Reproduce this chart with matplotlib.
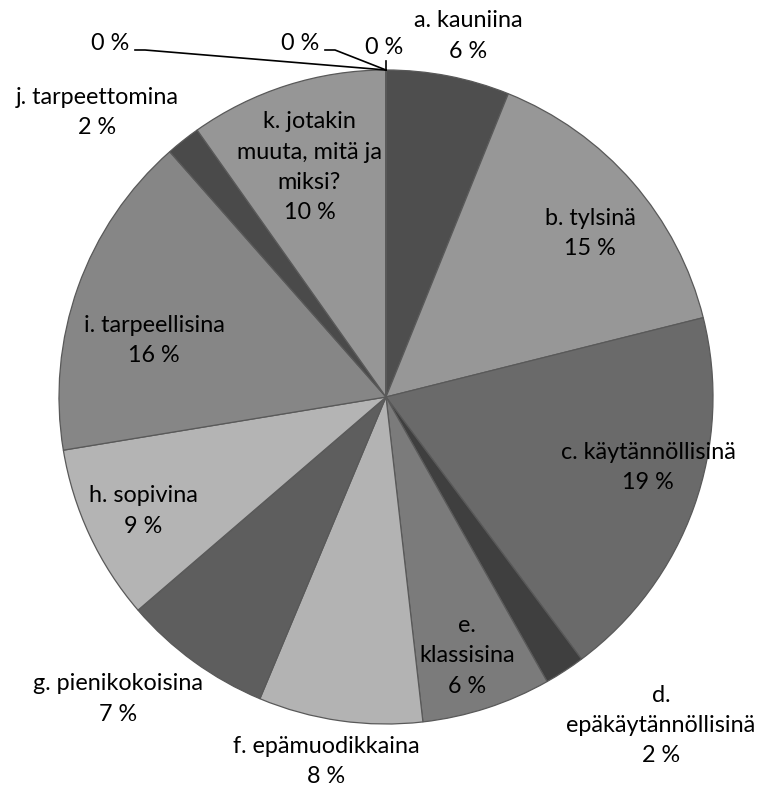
import matplotlib
matplotlib.use("Agg")
import matplotlib.pyplot as plt
import numpy as np

# ---- data ----
categories = ["a. kauniina", "b. tylsinä", "c. käytännöllisinä", "d.\nepäkäytännöllisinä",
              "e.\nklassisina", "f. epämuodikkaina", "g. pienikokoisina", "h. sopivina",
              "i. tarpeellisina", "j. tarpeettomina", "k. jotakin\nmuuta, mitä ja\nmiksi?",
              "", "", ""]
values = [6.1, 15.0, 18.7, 2.0, 6.4, 8.1, 7.4, 8.7, 16.1, 1.7, 9.8, 0.0, 0.0, 0.0]
colors = ["#4e4e4e", "#979797", "#6a6a6a", "#3f3f3f", "#7b7b7b", "#b3b3b3",
          "#5e5e5e", "#b4b4b4", "#868686", "#4a4a4a", "#969696",
          "#808080", "#808080", "#808080"]

# ---- layout (label placement relative to slice mid-angle) ----
label_r = [1.132, 0.80, 0.83, 1.31, 0.83, 1.13, 1.235, 0.82, 0.73, 1.24, 0.74]
label_dang = [1.8, 2.3, -4.6, -6.8, 0.6, 1.2, 5.6, -0.1, -6.0, -7.1, -0.8]
zero_label_xy = [(110, 43), (300, 43), (384, 48)]   # pixel positions of "0 %" labels

W, H = 759, 790
fig = plt.figure(figsize=(W / 100, H / 100), dpi=100)
ax = fig.add_axes([0, 0, 1, 1])

cx, cy, R = 386, H - 397, 327
wedges, _ = ax.pie(values, colors=colors, startangle=90, counterclock=False,
                   center=(cx, cy), radius=R, frame=True,
                   wedgeprops=dict(edgecolor="#595959", linewidth=0.9))
ax.set_xlim(0, W)
ax.set_ylim(0, H)
ax.set_aspect("equal")
ax.axis("off")

font = dict(family=["Lato", "DejaVu Sans"], fontsize=16.8, color="black")
total = sum(values)
cum = 0.0
zi = 0
for i, (name, v) in enumerate(zip(categories, values)):
    pct = f"{round(v / total * 100):.0f} %"
    mid = (cum + v / 2) / total * 360.0
    cum += v
    if v > 0:
        ang = np.deg2rad(mid + label_dang[i])
        x = cx + label_r[i] * R * np.sin(ang)
        y = cy + label_r[i] * R * np.cos(ang)
        ax.text(x, y, f"{name}\n{pct}", ha="center", va="center",
                multialignment="center", linespacing=1.55, **font)
    else:
        # zero slices: label with leader line to the wedge's position on the rim
        ang = np.deg2rad(mid)
        px = cx + R * np.sin(ang)
        py = cy + R * np.cos(ang)
        lx, ly = zero_label_xy[zi]
        ly = H - ly
        ax.text(lx, ly, pct, ha="center", va="center", **font)
        if zi < 2:
            sx = lx + 25
            ax.plot([sx, sx + 10, px], [ly - 7, ly - 7, py], color="black", lw=1.2)
        else:
            ax.plot([px, px], [py, py + 9], color="black", lw=1.2)
        zi += 1

fig.savefig("out.png", dpi=100)
